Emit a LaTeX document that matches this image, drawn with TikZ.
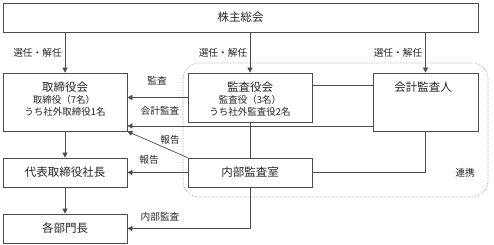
\documentclass[tikz,border=0pt]{standalone}
\usepackage{fontspec}
\setmainfont{Noto Sans CJK JP}
\usetikzlibrary{arrows.meta}
\begin{document}
\begin{tikzpicture}[x=1pt,y=-1pt,
 box/.style={draw=black!70, line width=0.7pt, fill=white, inner sep=0pt, font=\fontsize{11.5}{13}\selectfont, text=black!85},
 conn/.style={draw=black!70, line width=0.7pt},
 arr/.style={conn, -{Triangle[length=5pt,width=5pt]}},
 lbl/.style={font=\fontsize{9.7}{11}\selectfont, text=black!85, inner sep=0pt},
 ttl/.style={font=\fontsize{11.5}{13}\selectfont, text=black!85, inner sep=0pt},
 sub/.style={font=\fontsize{9.5}{11}\selectfont, text=black!85, inner sep=0pt}]
\useasboundingbox (0,0) rectangle (494,245);
% group frame
\draw[black!40, densely dotted, line width=0.6pt, rounded corners=16pt] (183,63) rectangle (488,197);
% boxes
\node[box, minimum width=475pt, minimum height=29pt] (kabu) at (240.5,17.5) {株主総会};
\node[box, minimum width=124pt, minimum height=58pt] (tori) at (65,102) {};
\node[box, minimum width=124pt, minimum height=49pt] (kansa) at (250,97.5) {};
\node[box, minimum width=105pt, minimum height=58pt] (kaikei) at (425.5,102) {};
\node[box, minimum width=124pt, minimum height=29pt] (naibu) at (250,172.5) {内部監査室};
\node[box, minimum width=124pt, minimum height=29pt] (daihyo) at (65,172.5) {代表取締役社長};
\node[box, minimum width=124pt, minimum height=29pt] (kakubu) at (65,228.5) {各部門長};
% box texts
\node[ttl] (toriT) at (65,87) {取締役会};
\node[sub] (toriS1) at (64,99.5) {取締役（7名）};
\node[sub] (toriS2) at (65,112) {うち社外取締役1名};
\node[ttl] (kansaT) at (250,87) {監査役会};
\node[sub] (kansaS1) at (250,99.5) {監査役（3名）};
\node[sub] (kansaS2) at (250,112) {うち社外監査役2名};
\node[ttl] (kaikeiT) at (423,87) {会計監査人};
% connectors
\draw[arr] (kabu.south -| tori.north) -- (tori.north);
\draw[arr] (kabu.south -| kansa.north) -- (kansa.north);
\draw[arr] (kabu.south -| kaikei.north) -- (kaikei.north);
\draw[conn] (kansa.east |- 0,85) -- (kaikei.west |- 0,85);
\draw[arr] (kansa.west) -- (tori.east |- kansa.west);
\draw[arr] (kaikei.west |- 0,126) -- (tori.east |- 0,126);
\draw[conn] (kansa.south) -- (naibu.north);
\draw[conn] (naibu.east) -| (kaikei.south);
\draw[arr] (naibu.north west) -- (tori.south east);
\draw[arr] (naibu.west) -- (daihyo.east);
\draw[arr] (tori.south) -- (daihyo.north);
\draw[arr] (daihyo.south) -- (kakubu.north);
\draw[arr] (naibu.south) |- (kakubu.east);
% labels
\node[lbl] (l1) at (37.5,53) {選任・解任};
\node[lbl] (l2) at (223,53) {選任・解任};
\node[lbl] (l3) at (398,53) {選任・解任};
\node[lbl] (l4) at (157,81) {監査};
\node[lbl] (l5) at (160,111) {会計監査};
\node[lbl] (l6) at (170,140) {報告};
\node[lbl] (l7) at (149,160) {報告};
\node[lbl] (l8) at (160,217) {内部監査};
\node[lbl] (l9) at (465,173) {連携};
\end{tikzpicture}
\end{document}
